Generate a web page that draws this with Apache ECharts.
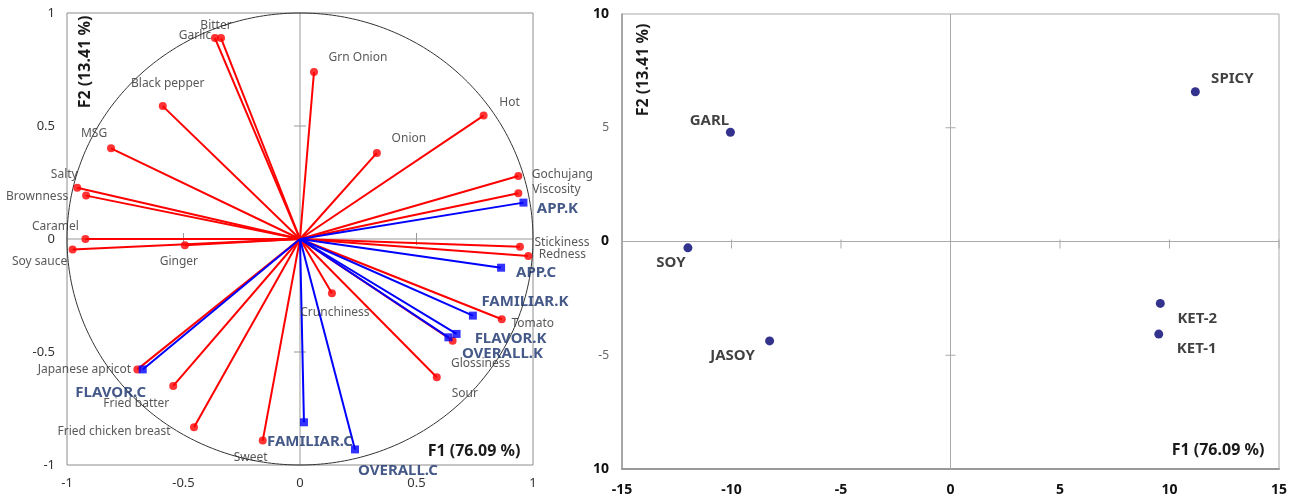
<!DOCTYPE html>
<html><head><meta charset="utf-8">
<script src="https://cdn.jsdelivr.net/npm/echarts@6/dist/echarts.min.js"></script>
<style>html,body{margin:0;padding:0;background:#fff}#c{width:1297px;height:497px}</style>
</head><body><div id="c"></div>
<script>
// ---------- DATA ----------
const attrNames = ['Bitter','Garlic','Grn Onion','Black pepper','MSG','Hot','Onion','Gochujang','Viscosity','Salty','Brownness','Caramel','Soy sauce','Ginger','Stickiness','Redness','Crunchiness','Tomato','Glossiness','Sour','Japanese apricot','Fried batter','Fried chicken breast','Sweet'];
const attrF1 = [-0.339,-0.365,0.060,-0.589,-0.811,0.788,0.330,0.937,0.937,-0.956,-0.918,-0.921,-0.976,-0.494,0.944,0.980,0.137,0.866,0.655,0.587,-0.698,-0.544,-0.455,-0.160];
const attrF2 = [0.889,0.889,0.739,0.588,0.401,0.546,0.381,0.279,0.202,0.227,0.192,0.000,-0.046,-0.028,-0.034,-0.075,-0.240,-0.355,-0.450,-0.612,-0.577,-0.650,-0.833,-0.892];
const prefNames = ['APP.K','APP.C','FAMILIAR.K','FLAVOR.K','OVERALL.K','FAMILIAR.C','OVERALL.C','FLAVOR.C'];
const prefF1 = [0.959,0.863,0.742,0.672,0.637,0.017,0.236,-0.675];
const prefF2 = [0.161,-0.127,-0.339,-0.420,-0.435,-0.811,-0.931,-0.577];
const prodNames = ['GARL','SOY','SPICY','JASOY','KET-2','KET-1'];
const prodF1 = [-10.05,-11.99,11.18,-8.26,9.58,9.51];
const prodF2 = [4.80,-0.28,6.58,-4.37,-2.72,-4.07];
const loadTicks = [-1,-0.5,0,0.5,1];
const scoreXTicks = [-15,-10,-5,0,5,10,15];
const scoreYTicks = [-10,-5,0,5,10];
const scoreYTickLabels = ['10','-5','0','5','10'];
const titleF1 = 'F1 (76.09 %)';
const titleF2 = 'F2 (13.41 %)';

// ---------- LAYOUT (label offsets in px, not data) ----------
const labelOffset = {
  'Bitter':[-5,-13],'Garlic':[-20,-3],'Grn Onion':[44,-14],'Black pepper':[5,-23],'MSG':[-17,-15],
  'Hot':[26,-13],'Onion':[32,-14],'Gochujang':[44,-1],'Viscosity':[38,-4],'Salty':[-13,-13],
  'Brownness':[-49,1],'Caramel':[-30,-12],'Soy sauce':[-33,12],'Ginger':[-6,16],'Stickiness':[42,-4],
  'Redness':[34,-1],'Crunchiness':[3,19],'Tomato':[31,4],'Glossiness':[28,23],'Sour':[28,16],
  'Japanese apricot':[-53,0],'Fried batter':[-37,18],'Fried chicken breast':[-80,4],'Sweet':[-12,17],
  'APP.K':[34,6],'APP.C':[35,5],'FAMILIAR.K':[52,-14],'FLAVOR.K':[54,5],'OVERALL.K':[54,16],
  'FAMILIAR.C':[6,19],'OVERALL.C':[43,21],'FLAVOR.C':[-32,23],
  'GARL':[-21,-12],'SOY':[-17,15],'SPICY':[37,-13],'JASOY':[-37,15],'KET-2':[37,15],'KET-1':[38,15]
};

const FONT = 'Noto Sans, DejaVu Sans, sans-serif';
const attrData = attrNames.map((n,i)=>({name:n,value:[attrF1[i],attrF2[i]],label:{offset:labelOffset[n]}}));
const prefData = prefNames.map((n,i)=>({name:n,value:[prefF1[i],prefF2[i]],label:{offset:labelOffset[n]}}));
const prodData = prodNames.map((n,i)=>({name:n,value:[prodF1[i],prodF2[i]],label:{offset:labelOffset[n]}}));

function vectorSeries(data,color){
  return {type:'custom',xAxisIndex:0,yAxisIndex:0,data:data.map(d=>d.value),silent:true,
    renderItem:(p,api)=>{const o=api.coord([0,0]);const e=api.coord([api.value(0),api.value(1)]);
      return {type:'line',shape:{x1:o[0],y1:o[1],x2:e[0],y2:e[1]},style:{stroke:color,lineWidth:2}};}};
}

const chart = echarts.init(document.getElementById('c'),null,{renderer:'canvas'});
chart.setOption({
  animation:false,
  backgroundColor:'#fff',
  grid:[
    {left:67,top:13,width:466,height:452,show:true,borderColor:'#8c8c8c',borderWidth:1},
    {left:622,top:14,width:657,height:455,show:true,borderColor:'#aaaaaa',borderWidth:1}
  ],
  xAxis:[
    {gridIndex:0,type:'value',min:-1,max:1,interval:0.5,axisLine:{show:false},axisTick:{show:false},splitLine:{show:false},
     axisLabel:{margin:12,fontSize:13,color:'#333',fontFamily:FONT}},
    {gridIndex:1,type:'value',min:-15,max:15,interval:5,axisLine:{show:true,onZero:false,lineStyle:{color:'#999',width:2}},axisTick:{show:false},splitLine:{show:false},
     axisLabel:{margin:14,fontSize:14,fontWeight:'bold',color:'#111',fontFamily:FONT}}
  ],
  yAxis:[
    {gridIndex:0,type:'value',min:-1,max:1,interval:0.5,axisLine:{show:false},axisTick:{show:false},splitLine:{show:false},
     axisLabel:{margin:12,fontSize:13,color:'#333',fontFamily:FONT}},
    {gridIndex:1,type:'value',min:-10,max:10,interval:5,axisLine:{show:true,onZero:false,lineStyle:{color:'#999',width:1.5}},axisTick:{show:false},splitLine:{show:false},
     axisLabel:{margin:13,fontFamily:FONT,
       formatter:v=>{const i=scoreYTicks.indexOf(v);const t=scoreYTickLabels[i];return (v===0||Math.abs(v)===10)?'{b|'+t+'}':'{n|'+t+'}';},
       rich:{b:{fontWeight:'bold',color:'#111',fontSize:14,fontFamily:FONT},n:{color:'#666',fontSize:12,fontFamily:FONT}}}}
  ],
  graphic:[
    {type:'text',x:85,y:62,rotation:Math.PI/2,style:{text:titleF2,align:'center',verticalAlign:'middle',font:'bold 16px '+FONT,fill:'#1a1a1a'}},
    {type:'text',x:474,y:451,style:{text:titleF1,align:'center',verticalAlign:'middle',font:'bold 16px '+FONT,fill:'#1a1a1a'}},
    {type:'text',x:643,y:70,rotation:Math.PI/2,style:{text:titleF2,align:'center',verticalAlign:'middle',font:'bold 16px '+FONT,fill:'#1a1a1a'}},
    {type:'text',x:1218,y:450,style:{text:titleF1,align:'center',verticalAlign:'middle',font:'bold 16px '+FONT,fill:'#1a1a1a'}}
  ],
  series:[
    {type:'custom',xAxisIndex:0,yAxisIndex:0,data:[[0,0]],silent:true,
     renderItem:(p,api)=>{
       const ch=[];const st={stroke:'#999',lineWidth:1};
       const a=api.coord([-1,0]),b=api.coord([1,0]),c=api.coord([0,-1]),d=api.coord([0,1]);
       ch.push({type:'line',shape:{x1:a[0],y1:a[1],x2:b[0],y2:b[1]},style:st});
       ch.push({type:'line',shape:{x1:c[0],y1:c[1],x2:d[0],y2:d[1]},style:st});
       loadTicks.forEach(t=>{ if(t===0||Math.abs(t)===1) return;
         const q=api.coord([t,0]);ch.push({type:'line',shape:{x1:q[0],y1:q[1]-6,x2:q[0],y2:q[1]+6},style:st});
         const r=api.coord([0,t]);ch.push({type:'line',shape:{x1:r[0]-6,y1:r[1],x2:r[0]+6,y2:r[1]},style:st});});
       const pts=[];for(let k=0;k<=360;k++){const th=k*Math.PI/180;pts.push(api.coord([Math.cos(th),Math.sin(th)]));}
       ch.push({type:'polyline',shape:{points:pts},style:{stroke:'#333',lineWidth:1,fill:null}});
       return {type:'group',children:ch};
     }},
    vectorSeries(attrData,'#ff0000'),
    vectorSeries(prefData,'#0000ff'),
    {type:'scatter',xAxisIndex:0,yAxisIndex:0,data:attrData,symbol:'circle',symbolSize:8,itemStyle:{color:'#ff0000'},
     label:{show:true,position:'inside',formatter:'{b}',fontSize:12,color:'#2e2e2e',fontFamily:FONT}},
    {type:'scatter',xAxisIndex:0,yAxisIndex:0,data:prefData,symbol:'rect',symbolSize:8,itemStyle:{color:'#0000ff'},
     label:{show:true,position:'inside',formatter:'{b}',fontSize:15,fontWeight:'bold',color:'#17306a',fontFamily:FONT}},
    {type:'custom',xAxisIndex:1,yAxisIndex:1,data:[[0,0]],silent:true,
     renderItem:(p,api)=>{
       const ch=[];const st={stroke:'#aaa',lineWidth:1};
       const a=api.coord([-15,0]),b=api.coord([15,0]),c=api.coord([0,-10]),d=api.coord([0,10]);
       ch.push({type:'line',shape:{x1:a[0],y1:a[1],x2:b[0],y2:b[1]},style:st});
       ch.push({type:'line',shape:{x1:c[0],y1:c[1],x2:d[0],y2:d[1]},style:st});
       scoreXTicks.forEach(t=>{ if(t===0||t===-15) return;
         const q=api.coord([t,0]);ch.push({type:'line',shape:{x1:q[0],y1:q[1]-2,x2:q[0],y2:q[1]+7},style:st});});
       scoreYTicks.forEach(t=>{ if(t===0||Math.abs(t)===10) return;
         const r=api.coord([0,t]);ch.push({type:'line',shape:{x1:r[0]-5,y1:r[1],x2:r[0]+5,y2:r[1]},style:st});});
       return {type:'group',children:ch};
     }},
    {type:'scatter',xAxisIndex:1,yAxisIndex:1,data:prodData,symbol:'circle',symbolSize:9,itemStyle:{color:'#000070'},
     label:{show:true,position:'inside',formatter:'{b}',fontSize:15,fontWeight:'bold',color:'#111',fontFamily:FONT}}
  ]
});
</script></body></html>
